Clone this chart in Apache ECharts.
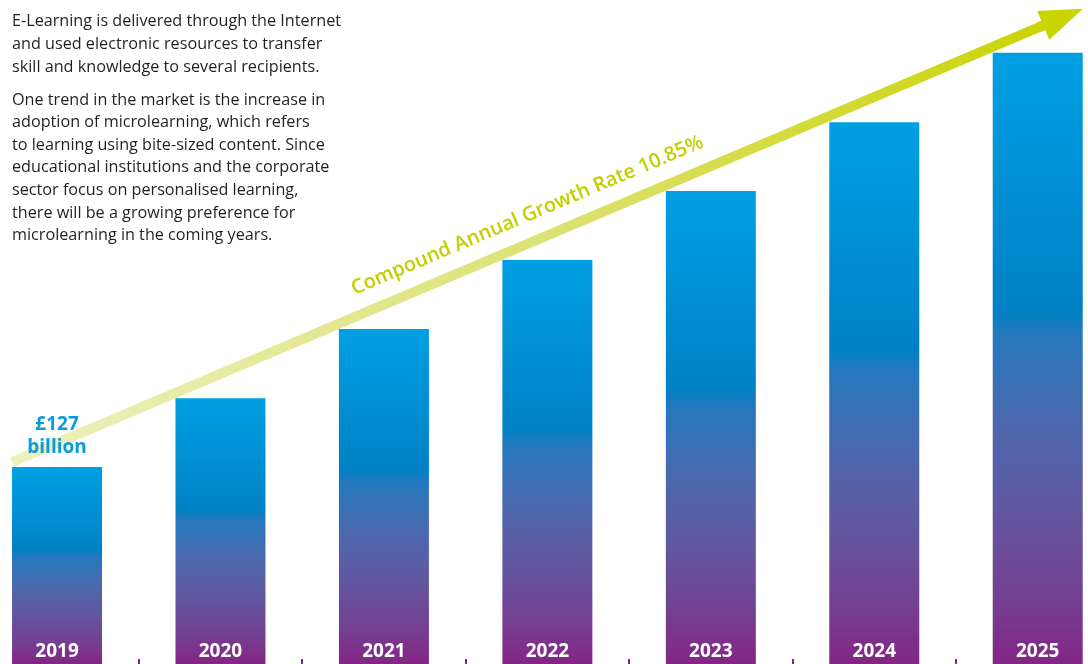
<!DOCTYPE html>
<html>
<head>
<meta charset="utf-8">
<script src="https://cdn.jsdelivr.net/npm/echarts@6/dist/echarts.min.js"></script>
<style>
html,body{margin:0;padding:0;background:#fff;}
#chart{width:1088px;height:664px;}
</style>
</head>
<body>
<div id="chart"></div>
<script>
// ---- data ----
var years = ['2019', '2020', '2021', '2022', '2023', '2024', '2025'];
var marketValues = [127, 171.3, 216, 260.4, 305, 349.2, 394.1]; // £ billion (only 2019 labelled)
var firstLabel = '£127\nbillion';
var cagrText = 'Compound Annual Growth Rate 10.85%';
// trend arrow endpoints in data units: [category position, value]
var trendStart = [-0.275, 130.2];
var trendHeadFrom = [6.0, 410.2];
var trendEnd = [6.155, 417.1];
var introText = 'E-Learning is delivered through the Internet\nand used electronic resources to transfer\nskill and knowledge to several recipients.';
var trendNote = 'One trend in the market is the increase in\nadoption of microlearning, which refers\nto learning using bite-sized content. Since\neducational institutions and the corporate\nsector focus on personalised learning,\nthere will be a growing preference for\nmicrolearning in the coming years.';

var chart = echarts.init(document.getElementById('chart'), null, {renderer: 'canvas'});

var barGradient = {
  type: 'linear', x: 0, y: 0, x2: 0, y2: 1,
  colorStops: [
    {offset: 0, color: '#00A0E3'},
    {offset: 0.42, color: '#0081C5'},
    {offset: 0.46, color: '#2578BD'},
    {offset: 0.6, color: '#4A68AE'},
    {offset: 0.75, color: '#6257A0'},
    {offset: 0.9, color: '#753E90'},
    {offset: 1, color: '#842585'}
  ]
};

var lineGradient = {
  type: 'linear', x: 0, y: 0, x2: 1, y2: 0,
  colorStops: [
    {offset: 0, color: '#EEF0BF'},
    {offset: 0.5, color: '#DDE275'},
    {offset: 1, color: '#C9D400'}
  ]
};

var option = {
  animation: false,
  backgroundColor: '#ffffff',
  grid: {left: -24.7, right: -31.45, top: 0, bottom: 0, containLabel: false, outerBoundsMode: 'none'},
  xAxis: [{
    type: 'category',
    data: years,
    z: 10,
    axisLine: {show: false},
    axisTick: {show: true, inside: true, length: 5, lineStyle: {color: '#7A2A8A', width: 2}},
    axisLabel: {
      inside: true, margin: 3, color: '#ffffff',
      fontFamily: 'Open Sans', fontWeight: 'bold', fontSize: 19
    },
    splitLine: {show: false}
  }, {
    type: 'value', min: -0.5, max: 6.5, show: false
  }],
  yAxis: {type: 'value', min: 0, max: 428.06, show: false, splitLine: {show: false}},
  graphic: [
    {type: 'text', left: 12, top: 10.5, z: 20,
     style: {text: introText, fill: '#231F20', font: '16.2px "Open Sans"', lineHeight: 22.6}},
    {type: 'text', left: 12, top: 88.7, z: 20,
     style: {text: trendNote, fill: '#231F20', font: '16.2px "Open Sans"', lineHeight: 22.6}}
  ],
  series: [{
    type: 'bar',
    data: marketValues.map(function (v, i) {
      var item = {value: v};
      if (i === 0) {
        item.label = {
          show: true, position: 'top', distance: 8,
          formatter: firstLabel, color: '#0A9BDC',
          fontFamily: 'Open Sans', fontWeight: 'bold', fontSize: 19, lineHeight: 23
        };
      }
      return item;
    }),
    barWidth: 90,
    itemStyle: {color: barGradient},
    z: 6
  }, {
    type: 'line',
    xAxisIndex: 1,
    data: [],
    z: 5,
    markLine: {
      silent: true,
      animation: false,
      symbol: ['none', 'none'],
      data: [
        [
          {coord: trendStart, symbol: 'none',
           lineStyle: {color: lineGradient, width: 10, type: 'solid'},
           label: {show: true, position: 'insideMiddleTop', distance: 16, formatter: cagrText,
                   color: '#C3CF00', fontFamily: 'Open Sans', fontWeight: 600, fontSize: 20}},
          {coord: trendEnd, symbol: 'none'}
        ],
        [
          {coord: trendHeadFrom, symbol: 'none',
           lineStyle: {color: '#C9D400', width: 10, type: 'solid'},
           label: {show: false}},
          {coord: trendEnd, symbol: 'triangle', symbolSize: [31, 43]}
        ]
      ]
    }
  }]
};
chart.setOption(option);
</script>
</body>
</html>
